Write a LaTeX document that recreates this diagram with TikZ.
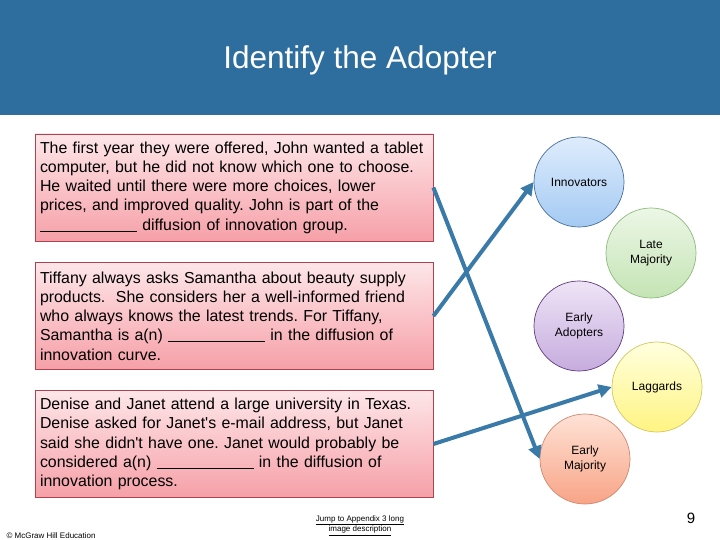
\documentclass[tikz,border=0pt]{standalone}
\usepackage{fontspec}
\setmainfont{Liberation Sans}
\frenchspacing
\definecolor{headblue}{RGB}{46, 110, 158}
\definecolor{arrowblue}{RGB}{58, 122, 168}
\definecolor{boxred}{RGB}{176, 66, 80}
\definecolor{boxtop}{RGB}{253, 230, 232}
\definecolor{boxbot}{RGB}{246, 160, 168}
\definecolor{innoline}{RGB}{74, 110, 154}
\definecolor{innotop}{RGB}{222, 236, 252}
\definecolor{innobot}{RGB}{164, 202, 243}
\definecolor{lateline}{RGB}{141, 187, 124}
\definecolor{latetop}{RGB}{236, 247, 230}
\definecolor{latebot}{RGB}{196, 228, 180}
\definecolor{adoptline}{RGB}{95, 58, 128}
\definecolor{adopttop}{RGB}{238, 228, 246}
\definecolor{adoptbot}{RGB}{198, 172, 222}
\definecolor{lagline}{RGB}{208, 200, 96}
\definecolor{lagtop}{RGB}{255, 255, 222}
\definecolor{lagbot}{RGB}{255, 244, 130}
\definecolor{earlyline}{RGB}{208, 136, 112}
\definecolor{earlytop}{RGB}{254, 226, 214}
\definecolor{earlybot}{RGB}{248, 164, 134}
\usetikzlibrary{arrows.meta, positioning}
\newcommand{\blankline}{\rule[-1pt]{97pt}{0.6pt}}
\tikzset{
	story/.style={rectangle, draw=boxred, top color=boxtop, bottom color=boxbot, line width=0.8pt, align=left, text width=388pt, minimum width=398pt, minimum height=107pt, inner xsep=5pt, inner ysep=7pt, font=\fontsize{15.9}{19.3}\selectfont},
	group/.style={circle, minimum size=90pt, inner sep=0pt, line width=0.7pt, align=center, font=\fontsize{12}{14.5}\selectfont},
	link/.style={-{Triangle[length=13pt, width=13pt]}, line width=4pt, draw=arrowblue},
}

\begin{document}
\begin{tikzpicture}[x=1pt, y=-1pt]
	\useasboundingbox (0,0) rectangle (720,540);
	\fill[headblue] (0,0) rectangle (720,115);
	\node[text=white, font=\fontsize{31.5}{36}\selectfont] (title) at (360,60) {Identify the Adopter};
	% scenario boxes
	\node[story] (s1) at (234,187.5) {The first year they were offered, John wanted a tablet\\computer, but he did not know which one to choose.\\He waited until there were more choices, lower\\prices, and improved quality. John is part of the\\\blankline\ diffusion of innovation group.};
	\node[story] (s2) at (234,316) {Tiffany always asks Samantha about beauty supply\\products.\ \ She considers her a well-informed friend\\who always knows the latest trends. For Tiffany,\\Samantha is a(n) \blankline\ in the diffusion of\\innovation curve.};
	\node[story] (s3) at (234,444) {Denise and Janet attend a large university in Texas.\\Denise asked for Janet\textquotesingle s e-mail address, but Janet\\said she didn\textquotesingle t have one. Janet would probably be\\considered a(n) \blankline\ in the diffusion of\\innovation process.};
	% adopter groups
	\node[group, draw=innoline, top color=innotop, bottom color=innobot] (inno) at (579,182) {Innovators};
	\node[group, draw=lateline, top color=latetop, bottom color=latebot] (late) at (651,253) {Late\\Majority};
	\node[group, draw=adoptline, top color=adopttop, bottom color=adoptbot] (adopt) at (579,326) {Early\\Adopters};
	\node[group, draw=lagline, top color=lagtop, bottom color=lagbot] (lag) at (657,387) {Laggards};
	\node[group, draw=earlyline, top color=earlytop, bottom color=earlybot] (early) at (585,459) {Early\\Majority};
	\draw[link] (s1.east) -- (early.west);
	\draw[link] (s2.east) -- (inno.west);
	\draw[link] (s3.east) -- (lag.west);
	% footer
	\node[anchor=west, font=\fontsize{8}{9}\selectfont] (copy) at (3,535.5) {© McGraw Hill Education};
	\node[align=center, font=\fontsize{8}{9}\selectfont] (jump) at (360,525.5) {\underline{Jump to Appendix 3 long}\\\underline{image description}};
	\node[font=\fontsize{15}{17}\selectfont] (page) at (691,518) {9};
\end{tikzpicture}
\end{document}
